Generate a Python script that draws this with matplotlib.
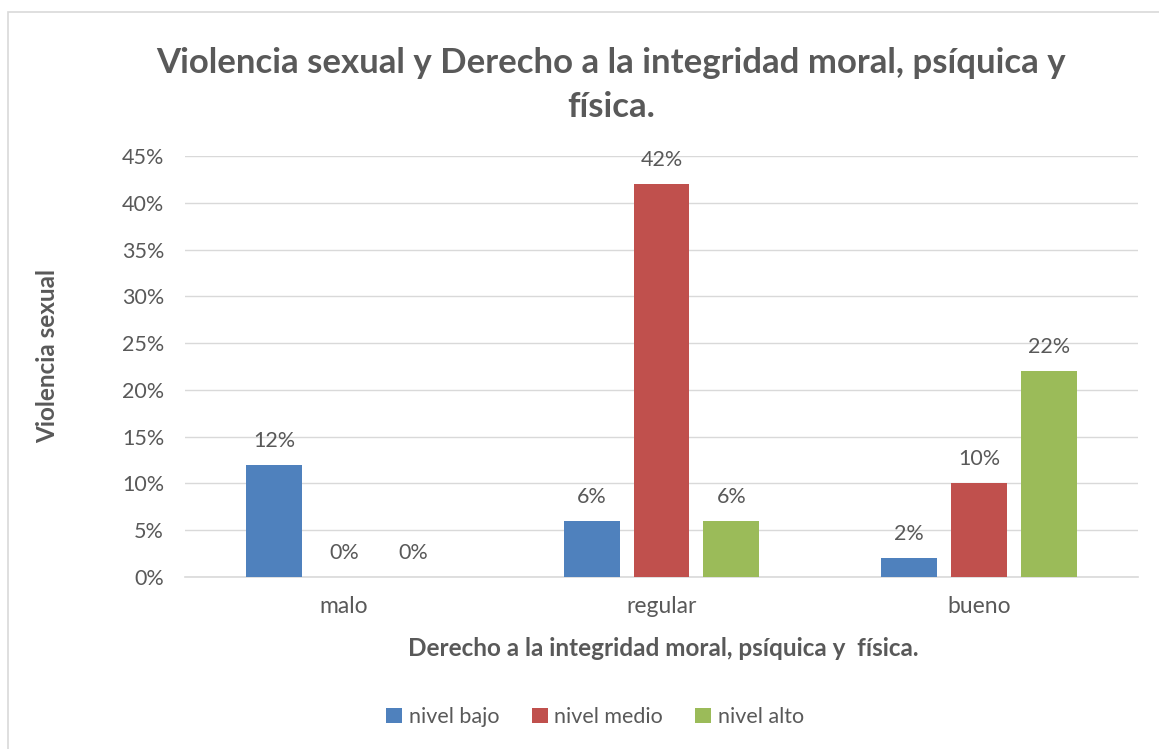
import numpy as np
import matplotlib.pyplot as plt
from matplotlib.patches import Rectangle

categorias = ["malo", "regular", "bueno"]
series = ["nivel bajo", "nivel medio", "nivel alto"]
nivel_bajo = [12, 6, 2]
nivel_medio = [0, 42, 10]
nivel_alto = [0, 6, 22]
valores = [nivel_bajo, nivel_medio, nivel_alto]
colores = ["#4F81BD", "#C0504D", "#9BBB59"]
yticks = [0, 5, 10, 15, 20, 25, 30, 35, 40, 45]

gris = "#595959"
plt.rcParams['font.family'] = ['Lato', 'DejaVu Sans']

fig = plt.figure(figsize=(11.59, 7.49), dpi=100)
ax = fig.add_axes([0.1596, 0.2296, 0.8223, 0.5621])

# chart border
fig.patches.append(Rectangle((8 / 1159, -0.01), 1.1, 1 - 12 / 749 + 0.01,
                             transform=fig.transFigure, fill=False,
                             edgecolor="#D9D9D9", linewidth=1.2))

x = np.arange(len(categorias))
ancho = 0.176
paso = 0.22
for i, (nombre, vals, col) in enumerate(zip(series, valores, colores)):
    pos = x + (i - 1) * paso
    ax.bar(pos, vals, width=ancho, color=col, label=nombre, zorder=3)
    for p, v in zip(pos, vals):
        ax.text(p, v + 1.5, f"{v}%", ha="center", va="bottom",
                fontsize=15.5, color=gris)

ax.set_xlim(-0.5, 2.5)
ax.set_ylim(0, 45)
ax.set_yticks(yticks)
ax.set_yticklabels([f"{t}%" for t in yticks], fontsize=15.5, color=gris)
ax.set_xticks(x)
ax.set_xticklabels(categorias, fontsize=16.5, color=gris)
ax.tick_params(axis="x", length=0, pad=14)
ax.tick_params(axis="y", length=0, pad=15)
ax.yaxis.grid(True, color="#D9D9D9", linewidth=1, zorder=0)
for s in ["top", "right", "left"]:
    ax.spines[s].set_visible(False)
ax.spines["bottom"].set_color("#D9D9D9")
ax.spines["bottom"].set_linewidth(1.2)

fig.text(611 / 1159, 1 - 85 / 749,
         "Violencia sexual y Derecho a la integridad moral, psíquica y\nfísica.",
         ha="center", va="center", fontsize=25, fontweight="bold",
         color=gris, linespacing=1.45)
fig.text(48 / 1159, 1 - 356 / 749, "Violencia sexual", rotation=90,
         ha="center", va="center", fontsize=17.5, fontweight="bold", color=gris)
fig.text(663 / 1159, 1 - 648 / 749,
         "Derecho a la integridad moral, psíquica y  física.",
         ha="center", va="center", fontsize=17.5, fontweight="bold", color=gris)

leg = fig.legend(loc="center", bbox_to_anchor=(595 / 1159, 1 - 717 / 749),
                 ncol=3, frameon=False, fontsize=15.5, handlelength=0.75,
                 handleheight=0.75, handletextpad=0.3, columnspacing=1.5)
for t in leg.get_texts():
    t.set_color(gris)

plt.savefig("out.png", dpi=100)
